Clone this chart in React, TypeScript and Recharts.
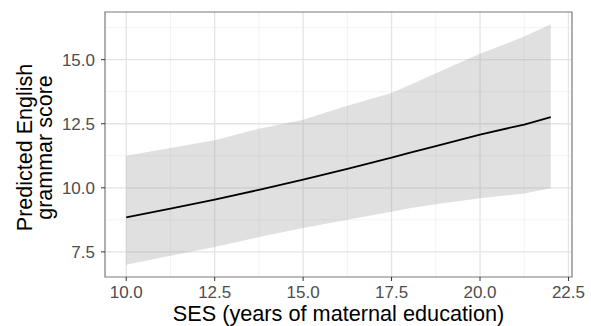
import React from "react";
import {
  ComposedChart,
  Area,
  Line,
  XAxis,
  YAxis,
  CartesianGrid,
  ReferenceArea,
} from "recharts";

const sesValues = [10, 11.25, 12.5, 13.75, 15, 16.25, 17.5, 18, 18.75, 20, 21.25, 22];
const fitValues = [8.85, 9.19, 9.54, 9.92, 10.32, 10.74, 11.18, 11.36, 11.63, 12.08, 12.47, 12.76];
const upperValues = [11.25, 11.55, 11.86, 12.3, 12.66, 13.2, 13.7, 14.0, 14.47, 15.23, 15.9, 16.38];
const lowerValues = [7.0, 7.35, 7.69, 8.08, 8.43, 8.75, 9.07, 9.2, 9.36, 9.59, 9.78, 9.98];

const xTicks = [10, 12.5, 15, 17.5, 20, 22.5];
const xMinor = [11.25, 13.75, 16.25, 18.75, 21.25];
const yTicks = [7.5, 10, 12.5, 15];
const yMinor = [8.75, 11.25, 13.75, 16.25];
const xDomain: [number, number] = [9.4, 22.6];
const yDomain: [number, number] = [6.52, 16.86];

const xTitle = "SES (years of maternal education)";
const yTitleLines = ["Predicted English", "grammar score"];

const data = sesValues.map((x, i) => ({
  x,
  fit: fitValues[i],
  band: [lowerValues[i], upperValues[i]],
}));

const FONT = "'Liberation Sans', Arial, Helvetica, sans-serif";

const YTitle = (props: any) => {
  const vb = props.viewBox || { x: 0, y: 12, width: 105, height: 265 };
  const cy = vb.y + vb.height / 2 + 3;
  const xs = [32, 52];
  return (
    <g>
      {yTitleLines.map((t, i) => (
        <text
          key={i}
          x={xs[i]}
          y={cy}
          transform={`rotate(-90, ${xs[i]}, ${cy})`}
          textAnchor="middle"
          fontSize={21.5}
          fontFamily={FONT}
          fill="#000"
        >
          {t}
        </text>
      ))}
    </g>
  );
};

export default function App() {
  return (
    <div style={{ position: "absolute", left: 0, top: 0, width: 591, height: 326 }}>
      <ComposedChart
        width={591}
        height={326}
        data={data}
        margin={{ top: 12, right: 19, bottom: 0, left: 0 }}
        style={{ fontFamily: FONT }}
      >
        <CartesianGrid
          horizontalValues={yMinor}
          verticalValues={xMinor}
          stroke="#EFEFEF"
          strokeWidth={0.8}
        />
        <CartesianGrid
          horizontalValues={yTicks}
          verticalValues={xTicks}
          stroke="#E4E4E4"
          strokeWidth={1.3}
        />
        <XAxis
          type="number"
          dataKey="x"
          domain={xDomain}
          ticks={xTicks}
          allowDataOverflow
          tickFormatter={(v: number) => v.toFixed(1)}
          height={49}
          axisLine={false}
          tickLine={{ stroke: "#333" }}
          tickSize={4}
          tickMargin={5}
          tick={{ fill: "#4D4D4D", fontSize: 17, fontFamily: FONT }}
          interval={0}
          label={{
            value: xTitle,
            position: "insideBottom",
            offset: 5,
            fontSize: 21.7,
            fill: "#000",
            fontFamily: FONT,
          }}
        />
        <YAxis
          type="number"
          domain={yDomain}
          ticks={yTicks}
          allowDataOverflow
          tickFormatter={(v: number) => v.toFixed(1)}
          width={105}
          axisLine={false}
          tickLine={{ stroke: "#333" }}
          tickSize={4}
          tickMargin={6}
          tick={{ fill: "#4D4D4D", fontSize: 17, fontFamily: FONT }}
          interval={0}
          label={<YTitle />}
        />
        <Area
          type="linear"
          dataKey="band"
          stroke="none"
          fill="#999999"
          fillOpacity={0.3}
          isAnimationActive={false}
        />
        <Line
          type="linear"
          dataKey="fit"
          stroke="#000"
          strokeWidth={1.8}
          dot={false}
          activeDot={false}
          isAnimationActive={false}
        />
        <ReferenceArea
          x1={xDomain[0]}
          x2={xDomain[1]}
          y1={yDomain[0]}
          y2={yDomain[1]}
          fill="none"
          stroke="#7A7A7A"
          strokeWidth={1.2}
          ifOverflow="visible"
        />
      </ComposedChart>
    </div>
  );
}
